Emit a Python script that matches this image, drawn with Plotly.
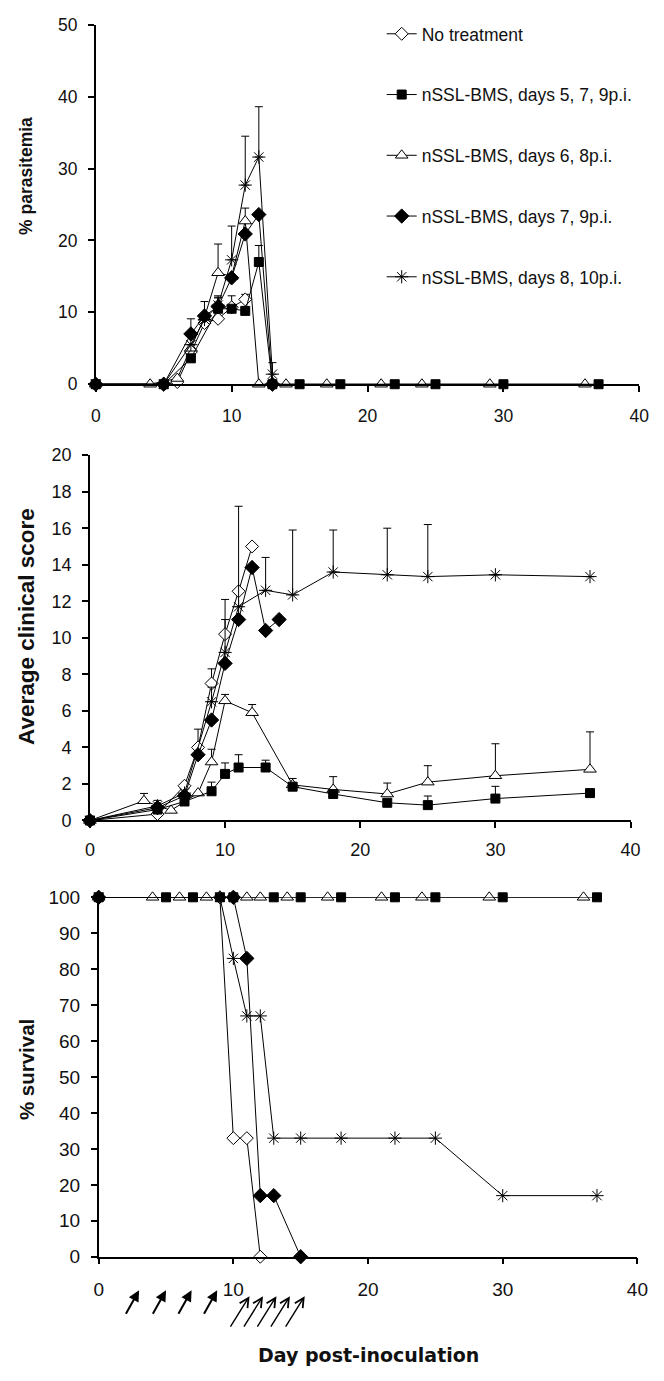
import plotly.graph_objects as go

W, H = 664, 1381

series_names = ["No treatment", "nSSL-BMS, days 5, 7, 9p.i.", "nSSL-BMS, days 6, 8p.i.",
                "nSSL-BMS, days 7, 9p.i.", "nSSL-BMS, days 8, 10p.i."]

# ---------------- % parasitemia ----------------
para_days_A = [0, 5, 6, 7, 8, 9, 10, 11]
para_vals_A = [0, 0, 0.3, 4.5, 8.5, 9.1, 10.7, 11.8]
para_err_A = [None, None, None, None, None, None, 1.6, 0.7]

para_days_B = [0, 5, 7, 9, 10, 11, 12, 13, 15, 18, 22, 25, 30, 37]
para_vals_B = [0, 0, 3.6, 10.5, 10.5, 10.2, 17.0, 0, 0, 0, 0, 0, 0, 0]
para_err_B = [None, None, None, 1.5, None, None, 2.3, None, None, None, None, None, None, None]

para_days_C = [0, 4, 6, 7, 8, 9, 10, 11, 12, 14, 17, 21, 24, 29, 36]
para_vals_C = [0, 0, 0.8, 5.0, 9.3, 15.5, 15.0, 22.7, 0, 0, 0, 0, 0, 0, 0]
para_err_C = [None, None, None, None, 2.2, 4.0, None, 1.8, None, None, None, None, None, None, None]

para_days_D = [0, 5, 7, 8, 9, 10, 11, 12, 13]
para_vals_D = [0, 0, 7.0, 9.5, 10.8, 14.8, 20.9, 23.6, 0]
para_err_D = [None, None, 2.1, None, 1.3, None, None, None, None]

para_days_E = [0, 5, 7, 8, 9, 10, 11, 12, 13]
para_vals_E = [0, 0, 5.5, 9.0, 11.0, 17.3, 27.7, 31.6, 1.4]
para_err_E = [None, None, None, None, 1.3, 4.7, 6.8, 7.0, 1.6]

# ---------------- Average clinical score ----------------
clin_days_A = [0, 5, 7, 8, 9, 10, 11, 12]
clin_vals_A = [0, 0.35, 1.9, 4.0, 7.5, 10.2, 12.55, 15.0]
clin_err_A = [None, None, None, 1.0, 0.8, 1.9, None, None]

clin_days_B = [0, 5, 7, 9, 10, 11, 13, 15, 18, 22, 25, 30, 37]
clin_vals_B = [0, 0.6, 1.04, 1.6, 2.55, 2.9, 2.9, 1.85, 1.45, 0.97, 0.84, 1.2, 1.5]
clin_err_B = [None, None, None, 0.5, 0.6, 0.7, 0.4, None, None, None, 0.5, 0.67, None]

clin_days_C = [0, 4, 6, 8, 9, 10, 12, 15, 18, 22, 25, 30, 37]
clin_vals_C = [0, 1.08, 0.55, 1.5, 3.2, 6.55, 5.9, 1.95, 1.7, 1.45, 2.1, 2.45, 2.8]
clin_err_C = [None, 0.4, None, None, 0.7, 0.35, 0.45, 0.35, 0.7, 0.6, 0.9, 1.75, 2.05]

clin_days_D = [0, 5, 7, 8, 9, 10, 11, 12, 13, 14]
clin_vals_D = [0, 0.7, 1.35, 3.6, 5.5, 8.6, 11.0, 13.85, 10.4, 11.0]
clin_err_D = [None] * 10

clin_days_E = [0, 5, 7, 9, 10, 11, 13, 15, 18, 22, 25, 30, 37]
clin_vals_E = [0, 0.8, 1.5, 6.5, 9.2, 11.7, 12.6, 12.35, 13.6, 13.45, 13.35, 13.45, 13.35]
clin_err_E = [None, 0.3, None, 0.8, 1.8, 5.5, 1.8, 3.55, 2.3, 2.55, 2.85, None, None]

# ---------------- % survival ----------------
surv_days_A = [0, 9, 10, 11, 12]
surv_vals_A = [100, 100, 33, 33, 0]

surv_days_B = [0, 5, 7, 9, 10, 13, 15, 18, 22, 25, 30, 37]
surv_vals_B = [100] * 12

surv_days_C = [0, 4, 6, 8, 11, 12, 14, 17, 21, 24, 29, 36]
surv_vals_C = [100] * 12

surv_days_D = [0, 10, 11, 12, 13, 15]
surv_vals_D = [100, 100, 83, 17, 17, 0]

surv_days_E = [0, 9, 10, 11, 12, 13, 15, 18, 22, 25, 30, 37]
surv_vals_E = [100, 100, 83, 67, 67, 33, 33, 33, 33, 33, 17, 17]

# treatment arrows (day of arrow tip)
filled_arrow_days = [3.0, 5.0, 6.9, 8.8]
open_arrow_days = [11.2, 12.2, 13.2, 14.2, 15.3]

# ---------------- styles ----------------
styles = [
    dict(symbol="diamond", size=10, color="white", line=dict(color="black", width=1)),
    dict(symbol="square", size=9, color="black", line=dict(color="black", width=1)),
    dict(symbol="triangle-up", size=11, color="white", line=dict(color="black", width=1)),
    dict(symbol="diamond", size=11, color="black", line=dict(color="black", width=1)),
    dict(symbol="asterisk-open", size=11, color="black", line=dict(color="black", width=1)),
]

panels = [
    ("x", "y", [(para_days_A, para_vals_A, para_err_A), (para_days_B, para_vals_B, para_err_B),
                (para_days_C, para_vals_C, para_err_C), (para_days_D, para_vals_D, para_err_D),
                (para_days_E, para_vals_E, para_err_E)]),
    ("x2", "y2", [(clin_days_A, clin_vals_A, clin_err_A), (clin_days_B, clin_vals_B, clin_err_B),
                  (clin_days_C, clin_vals_C, clin_err_C), (clin_days_D, clin_vals_D, clin_err_D),
                  (clin_days_E, clin_vals_E, clin_err_E)]),
    ("x3", "y3", [(surv_days_A, surv_vals_A, None), (surv_days_B, surv_vals_B, None),
                  (surv_days_C, surv_vals_C, None), (surv_days_D, surv_vals_D, None),
                  (surv_days_E, surv_vals_E, None)]),
]

fig = go.Figure()
draw_order = [0, 2, 3, 4, 1]
for pi, (xa, ya, data) in enumerate(panels):
    for i in draw_order:
        days, vals, err = data[i]
        tr = dict(
            x=days, y=vals, xaxis=xa, yaxis=ya, mode="lines+markers",
            name=series_names[i], legendrank=i + 1, legendgroup=str(i),
            showlegend=(pi == 0), cliponaxis=False,
            line=dict(color="black", width=1), marker=styles[i],
        )
        if err is not None:
            tr["error_y"] = dict(type="data", array=err, arrayminus=[0] * len(err),
                                 symmetric=False, color="black", thickness=1, width=4)
        fig.add_trace(go.Scatter(**tr))


def dom_x(a, b):
    return [a / W, b / W]


def dom_y(top, bot):
    return [1 - bot / H, 1 - top / H]


FAM = "Liberation Sans, Arial, sans-serif"


def axis_common(fs):
    return dict(showgrid=False, zeroline=False, showline=True, linecolor="black", linewidth=1.5,
                ticks="outside", ticklen=6, tickwidth=1.5, tickcolor="black",
                tickfont=dict(family=FAM, size=fs, color="#111"), fixedrange=True)


fig.update_layout(
    width=W, height=H, margin=dict(l=0, r=0, t=0, b=0),
    paper_bgcolor="white", plot_bgcolor="white",
    xaxis=dict(domain=dom_x(93, 650), range=[0, 40], dtick=10, anchor="y", ticklabelstandoff=9, **axis_common(17.5)),
    yaxis=dict(domain=dom_y(15, 380), range=[0, 50], dtick=10, anchor="x", ticklabelstandoff=7, **axis_common(17.5)),
    xaxis2=dict(domain=dom_x(87, 641), range=[0, 40], dtick=10, anchor="y2", ticklabelstandoff=6, **axis_common(18)),
    yaxis2=dict(domain=dom_y(452, 823), range=[0, 20], dtick=2, anchor="x2", ticklabelstandoff=7, **axis_common(18)),
    xaxis3=dict(domain=dom_x(96, 648), range=[0, 40], dtick=10, anchor="y3", ticklabelstandoff=9, **axis_common(19)),
    yaxis3=dict(domain=dom_y(901, 1266), range=[0, 100], dtick=10, anchor="x3", ticklabelstandoff=7, **axis_common(19)),
    showlegend=True,
    legend=dict(x=386 / W, y=1 - 6 / H, xanchor="left", yanchor="top", bgcolor="rgba(0,0,0,0)",
                font=dict(family=FAM, size=17.5, color="#111"),
                tracegroupgap=35, itemwidth=30, traceorder="grouped"),
)

# axis titles
ytitles = [("% parasitemia", 168, 17.5), ("Average clinical score", 626, 22.5), ("% survival", 1076, 20.5)]
for txt, py, fs in ytitles:
    fig.add_annotation(text="<b>%s</b>" % txt, x=22 / W, y=1 - py / H, xref="paper", yref="paper",
                       showarrow=False, textangle=-90, xanchor="center", yanchor="middle",
                       font=dict(family=FAM, size=fs, color="#111"))

fig.add_annotation(text="<b>Day post-inoculation</b>", x=372 / W, y=1 - 1366 / H, xref="paper", yref="paper",
                   showarrow=False, xanchor="center", yanchor="middle",
                   font=dict(family="DejaVu Sans", size=19, color="#111"))

# treatment arrows
for d in filled_arrow_days:
    fig.add_annotation(x=d, y=1 - 1300 / H, xref="x3", yref="paper", text="", showarrow=True,
                       ax=-14, ay=25, arrowhead=2, arrowsize=1.1, arrowwidth=2, arrowcolor="black")
for d in open_arrow_days:
    fig.add_annotation(x=d, y=1 - 1306 / H, xref="x3", yref="paper", text="", showarrow=True,
                       ax=-20, ay=32, arrowhead=5, arrowsize=1.3, arrowwidth=1.4, arrowcolor="black")

fig.write_html("out.html", config={"displayModeBar": False},
               post_script="document.body.style.margin='0px';document.body.style.overflow='hidden';")
